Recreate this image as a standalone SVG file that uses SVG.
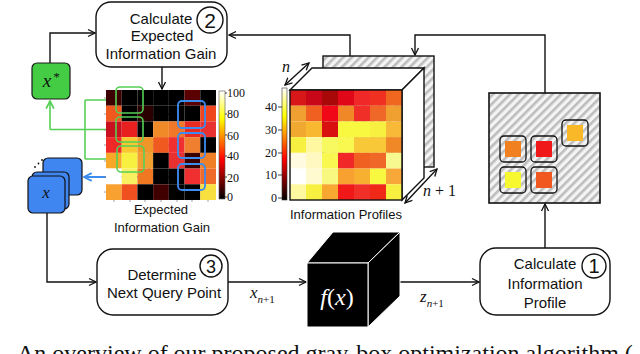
<svg xmlns="http://www.w3.org/2000/svg" width="640" height="354" viewBox="0 0 640 354">
<style>
.box{fill:#fff;stroke:#111;stroke-width:1.4}
.lbl{font-family:"Liberation Sans",Arial,sans-serif;font-size:15px;fill:#111;text-anchor:middle}
.num{font-family:"Liberation Sans",Arial,sans-serif;fill:#111;text-anchor:middle}
.circ{fill:#fff;stroke:#111;stroke-width:1.4}
.ln{fill:none;stroke:#111;stroke-width:1.4}
.gl{fill:none;stroke:#55d055;stroke-width:1.6}
.bl{fill:none;stroke:#3c8cf0;stroke-width:1.8}
.tick{font-family:"Liberation Serif","Times New Roman",serif;font-size:12px;fill:#111}
.math{font-family:"Liberation Serif","Times New Roman",serif;font-style:italic;fill:#111}
.cap{font-family:"Liberation Sans",Arial,sans-serif;font-size:13px;fill:#111;text-anchor:middle}
</style>
<defs>
<marker id="ah" markerUnits="userSpaceOnUse" markerWidth="10" markerHeight="10" viewBox="0 0 10 10" refX="9" refY="5" orient="auto-start-reverse">
<path d="M2,1.5 L9,5 L2,8.5" fill="none" stroke="#111" stroke-width="1.3"/>
</marker>
<marker id="ahb" markerUnits="userSpaceOnUse" markerWidth="11" markerHeight="11" viewBox="0 0 10 10" refX="9" refY="5" orient="auto">
<path d="M2,1.5 L9,5 L2,8.5" fill="none" stroke="#3c8cf0" stroke-width="1.6"/>
</marker>
<marker id="ahg" markerUnits="userSpaceOnUse" markerWidth="11" markerHeight="11" viewBox="0 0 10 10" refX="9" refY="5" orient="auto">
<path d="M2,1.5 L9,5 L2,8.5" fill="none" stroke="#55d055" stroke-width="1.6"/>
</marker>
<pattern id="hatch" patternUnits="userSpaceOnUse" width="6" height="6" patternTransform="rotate(45)">
<rect width="6" height="6" fill="#f4f4f4"/>
<rect x="0" y="0" width="2.6" height="6" fill="#bdbdbd"/>
</pattern>
<linearGradient id="hot" x1="0" y1="0" x2="0" y2="1">
<stop offset="0" stop-color="#ffffff"/>
<stop offset="0.254" stop-color="#ffff00"/>
<stop offset="0.635" stop-color="#ff0000"/>
<stop offset="1" stop-color="#000000"/>
</linearGradient>
</defs>

<!-- connectors -->
<g id="connectors">
<path class="ln" d="M50,63 V33 H95" marker-end="url(#ah)"/>
<path class="ln" d="M162,67 V89" marker-end="url(#ah)"/>
<path class="ln" d="M350,56 V35 H229" marker-end="url(#ah)"/>
<path class="ln" d="M545,93 V35 H415 V55" marker-end="url(#ah)"/>
<path class="ln" d="M545,248 V204" marker-end="url(#ah)"/>
<path class="ln" d="M47,213 V282 H96" marker-end="url(#ah)"/>
<path class="ln" d="M228,282 H306" marker-end="url(#ah)"/>
<path class="ln" d="M400,282 H479" marker-end="url(#ah)"/>
<path class="gl" d="M85,100 V159 M85,100 H116 M85,159 H117 M116,129.5 H50"/>
<path class="gl" d="M50,129.5 V101" marker-end="url(#ahg)"/>
<path class="bl" d="M149,113 V177 M149,114 H178 M149,145.5 H178"/>
<path class="bl" d="M178,177 H84" marker-end="url(#ahb)"/>
<path class="ln" stroke-width="1" d="M285,85 L309,63" marker-start="url(#ah)" marker-end="url(#ah)"/>
<path class="ln" stroke-width="1" d="M405,203 L437,169" marker-start="url(#ah)" marker-end="url(#ah)"/>
</g>

<g id="calc-eig">
<rect class="box" x="96" y="2" width="131" height="65" rx="15"/>
<text class="lbl" x="161" y="24">Calculate</text>
<text class="lbl" x="162" y="41">Expected</text>
<text class="lbl" x="161" y="59">Information Gain</text>
<circle class="circ" cx="210" cy="20" r="13"/>
<text class="num" x="210" y="27.5" font-size="21">2</text>
</g>

<g id="xstar">
<rect x="32" y="63" width="38" height="36" rx="5" fill="#44cc44" stroke="#1a1a1a" stroke-width="1.2"/>
<text class="math" x="47" y="87" font-size="19" text-anchor="middle">x</text>
<text class="math" x="56" y="81" font-size="13" text-anchor="middle" font-style="normal">*</text>
</g>

<g id="xstack">
<circle cx="35" cy="167" r="0.9" fill="#111"/>
<circle cx="38.5" cy="163.5" r="0.9" fill="#111"/>
<circle cx="42" cy="160" r="0.9" fill="#111"/>
<rect x="43" y="158" width="39" height="37" rx="5" fill="#3f86f0" stroke="#111" stroke-width="1.2"/>
<rect x="32" y="172" width="37" height="37" rx="5" fill="#3f86f0" stroke="#111" stroke-width="1.2"/>
<rect x="28" y="176" width="37" height="37" rx="5" fill="#3f86f0" stroke="#111" stroke-width="1.2"/>
<text class="math" x="46" y="198" font-size="17" text-anchor="middle">x</text>
</g>

<g id="eig-heatmap">
<g transform="translate(106,90) scale(0.982)">
<rect x="0" y="0" width="16" height="16" fill="#3c0000"/><rect x="16" y="0" width="16" height="16" fill="#000"/><rect x="32" y="0" width="16" height="16" fill="#000"/><rect x="48" y="0" width="16" height="16" fill="#000"/><rect x="64" y="0" width="16" height="16" fill="#000"/><rect x="80" y="0" width="16" height="16" fill="#5a0000"/><rect x="96" y="0" width="16" height="16" fill="#000"/>
<rect x="0" y="16" width="16" height="16" fill="#f05a1e"/><rect x="16" y="16" width="16" height="16" fill="#000"/><rect x="32" y="16" width="16" height="16" fill="#2a0000"/><rect x="48" y="16" width="16" height="16" fill="#000"/><rect x="64" y="16" width="16" height="16" fill="#000"/><rect x="80" y="16" width="16" height="16" fill="#000"/><rect x="96" y="16" width="16" height="16" fill="#f0461e"/>
<rect x="0" y="32" width="16" height="16" fill="#c8101e"/><rect x="16" y="32" width="16" height="16" fill="#e82020"/><rect x="32" y="32" width="16" height="16" fill="#000"/><rect x="48" y="32" width="16" height="16" fill="#f08a28"/><rect x="64" y="32" width="16" height="16" fill="#f07828"/><rect x="80" y="32" width="16" height="16" fill="#e82a20"/><rect x="96" y="32" width="16" height="16" fill="#e83232"/>
<rect x="0" y="48" width="16" height="16" fill="#f02828"/><rect x="16" y="48" width="16" height="16" fill="#f8c832"/><rect x="32" y="48" width="16" height="16" fill="#f09628"/><rect x="48" y="48" width="16" height="16" fill="#f05a20"/><rect x="64" y="48" width="16" height="16" fill="#f03030"/><rect x="80" y="48" width="16" height="16" fill="#f08030"/><rect x="96" y="48" width="16" height="16" fill="#000"/>
<rect x="0" y="64" width="16" height="16" fill="#f8a828"/><rect x="16" y="64" width="16" height="16" fill="#f8f040"/><rect x="32" y="64" width="16" height="16" fill="#f0a030"/><rect x="48" y="64" width="16" height="16" fill="#000"/><rect x="64" y="64" width="16" height="16" fill="#e83030"/><rect x="80" y="64" width="16" height="16" fill="#3a0000"/><rect x="96" y="64" width="16" height="16" fill="#f08028"/>
<rect x="0" y="80" width="16" height="16" fill="#ffffff"/><rect x="16" y="80" width="16" height="16" fill="#f8f060"/><rect x="32" y="80" width="16" height="16" fill="#f07820"/><rect x="48" y="80" width="16" height="16" fill="#000"/><rect x="64" y="80" width="16" height="16" fill="#000"/><rect x="80" y="80" width="16" height="16" fill="#f03030"/><rect x="96" y="80" width="16" height="16" fill="#f06a28"/>
<rect x="0" y="96" width="16" height="16" fill="#f8a030"/><rect x="16" y="96" width="16" height="16" fill="#f05020"/><rect x="32" y="96" width="16" height="16" fill="#000"/><rect x="48" y="96" width="16" height="16" fill="#400000"/><rect x="64" y="96" width="16" height="16" fill="#000"/><rect x="80" y="96" width="16" height="16" fill="#000"/><rect x="96" y="96" width="16" height="16" fill="#f8e040"/>
</g>
<path d="M106,98 h-2 M106,114 h-2 M106,130 h-2 M106,145 h-2 M106,161 h-2 M106,177 h-2 M106,192 h-2 M114,200 v2 M130,200 v2 M145,200 v2 M161,200 v2 M177,200 v2 M192,200 v2 M208,200 v2" stroke="#888" stroke-width="0.8"/>
<rect x="116" y="87" width="27" height="26" rx="4" class="gl"/>
<rect x="116" y="117" width="27" height="25" rx="4" class="gl"/>
<rect x="117" y="146" width="27" height="26" rx="4" class="gl"/>
<rect x="178" y="101" width="27" height="27" rx="4" class="bl"/>
<rect x="178" y="133" width="27" height="25" rx="4" class="bl"/>
<rect x="178" y="164" width="27" height="26" rx="4" class="bl"/>
<rect x="219" y="91" width="6" height="108" fill="url(#hot)" stroke="#555" stroke-width="0.6"/>
<path d="M225,93 h2 M225,114 h2 M225,135 h2 M225,156 h2 M225,177 h2 M225,197 h2" stroke="#111" stroke-width="0.8"/>
<text class="tick" x="227" y="97">100</text>
<text class="tick" x="227" y="118">80</text>
<text class="tick" x="227" y="140">60</text>
<text class="tick" x="227" y="160">40</text>
<text class="tick" x="227" y="182">20</text>
<text class="tick" x="227" y="201">0</text>
<text class="cap" x="161" y="214">Expected</text>
<text class="cap" x="162" y="232">Information Gain</text>
</g>

<g id="info-profiles">
<rect x="323" y="56" width="111" height="111" fill="url(#hatch)" stroke="#111" stroke-width="1.4"/>
<polygon points="290,90 312,68 424,68 402,90" fill="#fff" stroke="#111" stroke-width="1.4"/>
<polygon points="402,90 424,68 424,178 402,200" fill="#fff" stroke="#111" stroke-width="1.4"/>
<g transform="translate(290,90) scale(1,0.982)">
<rect x="0" y="0" width="16" height="16" fill="#d81818"/><rect x="16" y="0" width="16" height="16" fill="#c80818"/><rect x="32" y="0" width="16" height="16" fill="#a80808"/><rect x="48" y="0" width="16" height="16" fill="#e00818"/><rect x="64" y="0" width="16" height="16" fill="#f02828"/><rect x="80" y="0" width="16" height="16" fill="#f03020"/><rect x="96" y="0" width="16" height="16" fill="#f06820"/>
<rect x="0" y="16" width="16" height="16" fill="#f0a030"/><rect x="16" y="16" width="16" height="16" fill="#f06020"/><rect x="32" y="16" width="16" height="16" fill="#f00818"/><rect x="48" y="16" width="16" height="16" fill="#f08828"/><rect x="64" y="16" width="16" height="16" fill="#f03028"/><rect x="80" y="16" width="16" height="16" fill="#f06828"/><rect x="96" y="16" width="16" height="16" fill="#f0a030"/>
<rect x="0" y="32" width="16" height="16" fill="#f0a830"/><rect x="16" y="32" width="16" height="16" fill="#f8b830"/><rect x="32" y="32" width="16" height="16" fill="#d81010"/><rect x="48" y="32" width="16" height="16" fill="#f8f840"/><rect x="64" y="32" width="16" height="16" fill="#f8f840"/><rect x="80" y="32" width="16" height="16" fill="#f8f040"/><rect x="96" y="32" width="16" height="16" fill="#f8b838"/>
<rect x="0" y="48" width="16" height="16" fill="#f8f040"/><rect x="16" y="48" width="16" height="16" fill="#fff8a0"/><rect x="32" y="48" width="16" height="16" fill="#f8f860"/><rect x="48" y="48" width="16" height="16" fill="#f8f850"/><rect x="64" y="48" width="16" height="16" fill="#f8c838"/><rect x="80" y="48" width="16" height="16" fill="#f8c838"/><rect x="96" y="48" width="16" height="16" fill="#f08828"/>
<rect x="0" y="64" width="16" height="16" fill="#fffae0"/><rect x="16" y="64" width="16" height="16" fill="#fff8c0"/><rect x="32" y="64" width="16" height="16" fill="#f8f850"/><rect x="48" y="64" width="16" height="16" fill="#f02828"/><rect x="64" y="64" width="16" height="16" fill="#f06020"/><rect x="80" y="64" width="16" height="16" fill="#f06828"/><rect x="96" y="64" width="16" height="16" fill="#f8f890"/>
<rect x="0" y="80" width="16" height="16" fill="#ffffff"/><rect x="16" y="80" width="16" height="16" fill="#fffad0"/><rect x="32" y="80" width="16" height="16" fill="#f8f880"/><rect x="48" y="80" width="16" height="16" fill="#f8a030"/><rect x="64" y="80" width="16" height="16" fill="#f8b030"/><rect x="80" y="80" width="16" height="16" fill="#f8f840"/><rect x="96" y="80" width="16" height="16" fill="#f8a838"/>
<rect x="0" y="96" width="16" height="16" fill="#fff8a0"/><rect x="16" y="96" width="16" height="16" fill="#f8f040"/><rect x="32" y="96" width="16" height="16" fill="#f8a830"/><rect x="48" y="96" width="16" height="16" fill="#f01818"/><rect x="64" y="96" width="16" height="16" fill="#f03028"/><rect x="80" y="96" width="16" height="16" fill="#f02818"/><rect x="96" y="96" width="16" height="16" fill="#f8f040"/>
</g>
<rect x="290" y="90" width="112" height="110" fill="none" stroke="#111" stroke-width="1.4"/>
<rect x="282" y="88" width="5" height="112" fill="url(#hot)" stroke="#333" stroke-width="0.6"/>
<path d="M278,107 h4 M278,130 h4 M278,153 h4 M278,175 h4 M278,198 h4" stroke="#111" stroke-width="0.8"/>
<text class="tick" font-size="11" x="277" y="111" text-anchor="end">40</text>
<text class="tick" font-size="11" x="277" y="134" text-anchor="end">30</text>
<text class="tick" font-size="11" x="277" y="157" text-anchor="end">20</text>
<text class="tick" font-size="11" x="277" y="179" text-anchor="end">10</text>
<text class="tick" font-size="11" x="277" y="202" text-anchor="end">0</text>
<text class="math" x="286" y="72" font-size="16" text-anchor="middle">n</text>
<text class="math" x="423" y="196" font-size="16"><tspan>n</tspan><tspan font-style="normal"> + 1</tspan></text>
<text class="cap" x="346" y="219">Information Profiles</text>
</g>

<g id="info-profile">
<rect x="489" y="93" width="111" height="110" fill="url(#hatch)" stroke="#111" stroke-width="1.6"/>
<rect x="500" y="136" width="26" height="26" rx="4" fill="none" stroke="#111" stroke-width="1.3"/>
<rect x="505" y="141" width="16" height="16" fill="#f08020"/>
<rect x="531" y="136" width="26" height="26" rx="4" fill="none" stroke="#111" stroke-width="1.3"/>
<rect x="536" y="141" width="16" height="16" fill="#f01818"/>
<rect x="562" y="120" width="26" height="26" rx="4" fill="none" stroke="#111" stroke-width="1.3"/>
<rect x="567" y="125" width="16" height="16" fill="#f8b828"/>
<rect x="500" y="167" width="26" height="26" rx="4" fill="none" stroke="#111" stroke-width="1.3"/>
<rect x="505" y="172" width="16" height="16" fill="#f8f830"/>
<rect x="531" y="167" width="26" height="26" rx="4" fill="none" stroke="#111" stroke-width="1.3"/>
<rect x="536" y="172" width="16" height="16" fill="#f05820"/>
</g>

<g id="determine">
<rect class="box" x="97" y="249" width="131" height="66" rx="16"/>
<text class="lbl" x="162" y="280">Determine</text>
<text class="lbl" x="164" y="298">Next Query Point</text>
<circle class="circ" cx="211" cy="266" r="11"/>
<text class="num" x="211" y="272.5" font-size="18">3</text>
</g>
<text class="math" x="250" y="298" font-size="17">x<tspan font-size="11" dy="5" font-style="italic">n</tspan><tspan font-size="11" font-style="normal">+1</tspan></text>

<g id="fx">
<polygon points="307,263 333,232 400,232 368,263" fill="#000" stroke="#fff" stroke-width="1"/>
<polygon points="368,263 400,232 400,296 368,327" fill="#000" stroke="#fff" stroke-width="1"/>
<rect x="307" y="263" width="61" height="64" fill="#000" stroke="#fff" stroke-width="1"/>
<text class="math" x="337" y="305" font-size="24" style="fill:#fff" text-anchor="middle">f<tspan font-style="normal">(</tspan>x<tspan font-style="normal">)</tspan></text>
</g>
<text class="math" x="420" y="302" font-size="17">z<tspan font-size="11" dy="5">n</tspan><tspan font-size="11" font-style="normal">+1</tspan></text>

<g id="calc-ip">
<rect class="box" x="480" y="248" width="130" height="67" rx="16"/>
<text class="lbl" font-size="16" x="545" y="269">Calculate</text>
<text class="lbl" font-size="16" x="545" y="289">Information</text>
<text class="lbl" font-size="16" x="545" y="308">Profile</text>
<circle class="circ" cx="594" cy="266" r="12"/>
<text class="num" x="594" y="273" font-size="20">1</text>
</g>

<text x="17" y="361" font-family="'Liberation Serif','Times New Roman',serif" font-size="24" fill="#111"><tspan x="-61">Fig. 1:</tspan><tspan x="17">An overview of our proposed gray-box optimization algorithm (</tspan></text>
</svg>
